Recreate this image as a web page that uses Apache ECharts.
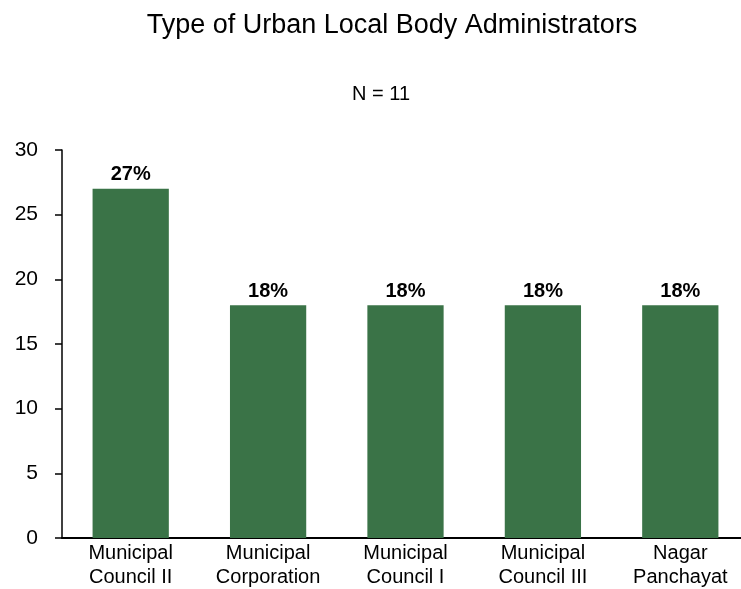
<!DOCTYPE html>
<html>
<head>
<meta charset="utf-8">
<script src="https://cdn.jsdelivr.net/npm/echarts@6/dist/echarts.min.js"></script>
<style>
  html, body { margin: 0; padding: 0; background: #fff; overflow: hidden; }
  /* canvas is a little wider than the window; the plot area runs off the right edge */
  #chart { width: 749px; height: 589px; }
</style>
</head>
<body>
<div id="chart"></div>
<script>
// Urban local body administrator types, counts (share of N = 11)
const categories = ['Municipal\nCouncil II', 'Municipal\nCorporation', 'Municipal\nCouncil I', 'Municipal\nCouncil III', 'Nagar\nPanchayat'];
const values = [27, 18, 18, 18, 18];
const yTicks = { min: 0, max: 30, interval: 5 };

const chart = echarts.init(document.getElementById('chart'));
const font = '"Liberation Sans", Arial, Helvetica, sans-serif';

chart.setOption({
  animation: false,
  textStyle: { fontFamily: font },
  title: [
    {
      text: 'Type of Urban Local Body Administrators',
      left: 387, top: 7, textAlign: 'center',
      textStyle: { fontSize: 27, fontWeight: 'normal', color: '#000', fontFamily: font }
    },
    {
      text: 'N = 11',
      left: 376, top: 79, textAlign: 'center',
      textStyle: { fontSize: 20, fontWeight: 'normal', color: '#000', fontFamily: font }
    }
  ],
  grid: { left: 62, top: 150, right: 0, bottom: 50, containLabel: false },
  xAxis: {
    type: 'category',
    data: categories,
    axisLine: { lineStyle: { color: '#000', width: 2 } },
    axisTick: { show: false },
    axisLabel: { color: '#000', fontSize: 20, lineHeight: 24, margin: 3, interval: 0, fontFamily: font }
  },
  yAxis: {
    type: 'value',
    min: yTicks.min, max: yTicks.max, interval: yTicks.interval,
    axisLine: { show: true, lineStyle: { color: '#000', width: 1.5 } },
    axisTick: { show: true, length: 7, lineStyle: { color: '#000', width: 1.5 } },
    splitLine: { show: false },
    axisLabel: { color: '#000', fontSize: 21, margin: 24, fontFamily: font }
  },
  series: [{
    type: 'bar',
    data: values,
    barWidth: '55.5%',
    itemStyle: { color: '#3a7347' },
    label: {
      show: true, position: 'top', distance: 4,
      color: '#000', fontSize: 20, fontWeight: 'bold', fontFamily: font,
      formatter: p => p.value + '%'
    }
  }]
});
</script>
</body>
</html>
